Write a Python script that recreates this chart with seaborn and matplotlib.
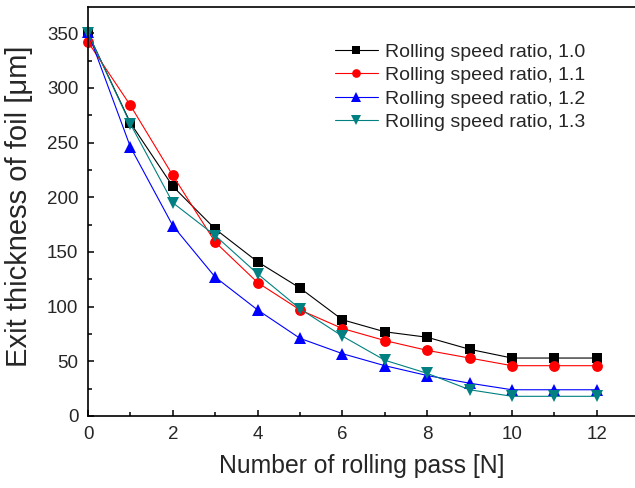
import matplotlib
matplotlib.use("Agg")
import matplotlib.pyplot as plt
from matplotlib.ticker import MultipleLocator
import numpy as np
import pandas as pd
import seaborn as sns

# Exit foil thickness after each rolling pass
passes = list(range(13))
ratio_labels = ["Rolling speed ratio, 1.0", "Rolling speed ratio, 1.1",
                "Rolling speed ratio, 1.2", "Rolling speed ratio, 1.3"]
ratio_10 = [350, 268, 210, 171, 141, 117, 88, 77, 72, 61, 53, 53, 53]
ratio_11 = [342, 284, 220, 159, 122, 97, 80, 69, 60, 53, 46, 46, 46]
ratio_12 = [351, 246, 174, 127, 97, 71, 57, 46, 37, 30, 24, 24, 24]
ratio_13 = [350, 267, 195, 165, 130, 98, 73, 51, 39, 24, 18, 18, 18]

series_colors = ["#000000", "#FF0000", "#0000FF", "#008080"]
series_markers = ["s", "o", "^", "v"]
marker_sizes = [6.8, 7.8, 8.8, 8.8]

df = pd.concat([
    pd.DataFrame({"pass": passes, "thickness": vals, "series": lab})
    for vals, lab in zip([ratio_10, ratio_11, ratio_12, ratio_13], ratio_labels)
], ignore_index=True)

sns.set_style("ticks")
plt.rcParams["font.family"] = ["Liberation Sans", "DejaVu Sans"]

fig = plt.figure(figsize=(6.35, 4.88), dpi=100)
ax = fig.add_axes([88 / 635, 1 - 416 / 488, 1 - 88 / 635, (416 - 7) / 488])

sns.lineplot(data=df, x="pass", y="thickness", hue="series", style="series",
             hue_order=ratio_labels, style_order=ratio_labels,
             palette=series_colors, markers=series_markers, dashes=False,
             linewidth=0.8, legend=False, ax=ax)

for line, col, ms in zip(ax.lines, series_colors, marker_sizes):
    line.set_markeredgecolor(col)
    line.set_markerfacecolor(col)
    line.set_markeredgewidth(0)
    line.set_markersize(ms)
    line.set_clip_on(False)

ax.set_xlim(0, 12.9)
ax.set_ylim(0, 374)
ax.xaxis.set_major_locator(MultipleLocator(2))
ax.xaxis.set_minor_locator(MultipleLocator(1))
ax.yaxis.set_major_locator(MultipleLocator(50))
ax.yaxis.set_minor_locator(MultipleLocator(25))
ax.tick_params(which="both", direction="in", width=1.1, labelsize=13.5,
               top=False, right=False, color="black")
ax.tick_params(which="major", length=4.5, pad=7)
ax.tick_params(which="minor", length=3)

for side in ["left", "bottom", "top"]:
    ax.spines[side].set_linewidth(1.2)
    ax.spines[side].set_color("black")
ax.spines["right"].set_visible(False)

ax.set_xlabel("Number of rolling pass [N]", fontsize=17.8, labelpad=8)
ax.set_ylabel("Exit thickness of foil [\u03bcm]", fontsize=21)
ax.yaxis.set_label_coords(-0.10, 0.513)

ax.legend(handles=ax.lines[:4], labels=ratio_labels, loc="upper left",
          bbox_to_anchor=(335 / 635, 1 - 43 / 488), bbox_transform=fig.transFigure,
          frameon=False, fontsize=14, markerscale=0.8, handlelength=2.2,
          handletextpad=0.35, labelspacing=0.3, borderpad=0, borderaxespad=0)

fig.savefig("out.png", dpi=100)
